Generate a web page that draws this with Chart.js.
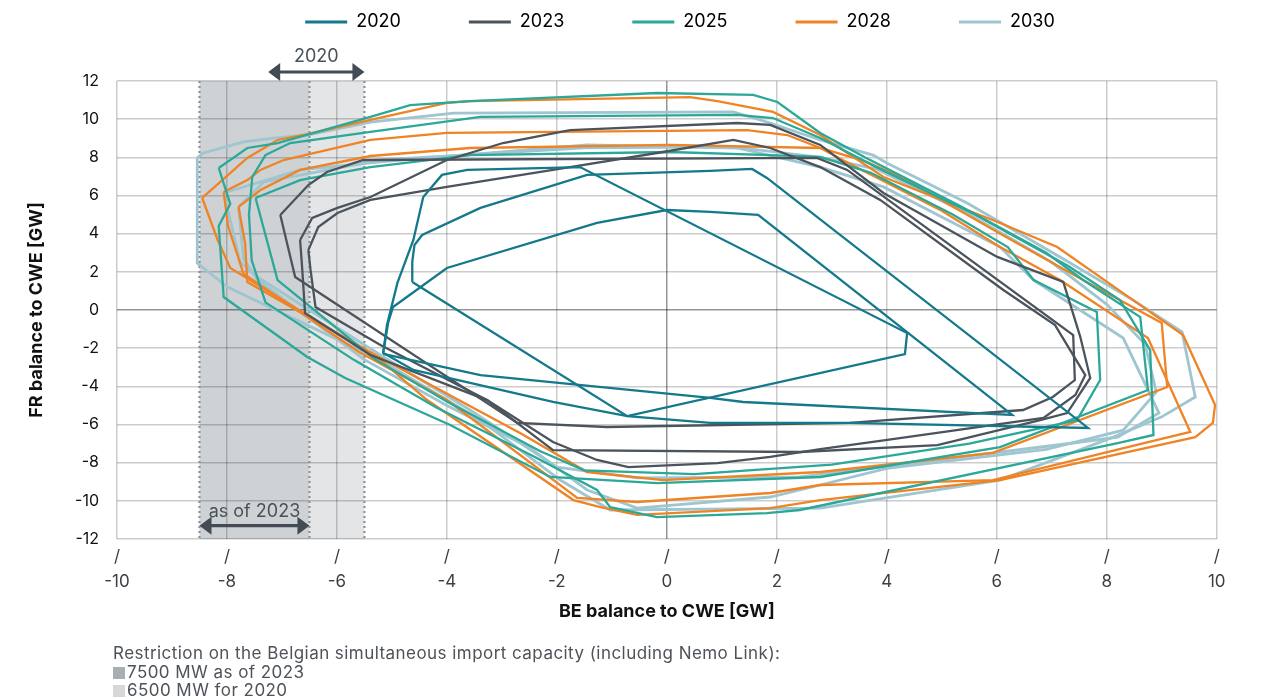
<!DOCTYPE html>
<html>
<head>
<meta charset="utf-8">
<script src="https://cdn.jsdelivr.net/npm/chart.js@4.4.1/dist/chart.umd.min.js"></script>
<style>
  html, body { margin: 0; padding: 0; background: #fff; }
  #wrap { position: relative; width: 1262px; height: 699px; }
  #notes { position: absolute; left: 113px; top: 644px; font: 17px Inter, sans-serif; letter-spacing: 0.45px; color: #4d5359; line-height: 18.5px; }
  .sq { display: inline-block; width: 12px; height: 12px; margin-right: 2px; vertical-align: -1px; }
</style>
</head>
<body>
<div id="wrap">
  <canvas id="frontier" width="1262" height="699"></canvas>
  <div id="notes">
    <div>Restriction on the Belgian simultaneous import capacity (including Nemo Link):</div>
    <div><span class="sq" style="background:#a9aeb3"></span>7500 MW as of 2023</div>
    <div><span class="sq" style="background:#d5d7d9"></span>6500 MW for 2020</div>
  </div>
</div>
<script>
var years = ['2020', '2023', '2025', '2028', '2030'];
var yearColors = ['#13798b', '#4b545c', '#2ba898', '#f08323', '#9ec5d0'];
var xTicks = [-10, -8, -6, -4, -2, 0, 2, 4, 6, 8, 10];
var yTicks = [-12, -10, -8, -6, -4, -2, 0, 2, 4, 6, 8, 10, 12];

// restriction on BE import (GW on the x axis)
var limit2023 = [-8.5, -6.5];
var limit2020 = [-6.5, -5.5];
var arrow2020 = [-7.25, -5.5];

// flow based domains, [BE, FR] in GW
var dom2020a = [[-5.16,-2.25],[-5.09,-0.79],[-4.90,1.42],[-4.61,3.67],[-4.43,5.92],[-4.09,7.08],[-3.63,7.34],[-1.58,7.49],[4.37,-1.21],[4.33,-2.31],[-0.72,-5.56],[-2.07,-4.82],[-4.61,-3.14],[-5.09,-2.36]];
var dom2020b = [[-5.16,-2.3],[-5.07,-0.68],[-4.98,0.16],[-4.00,2.20],[-1.27,4.56],[0.0,5.24],[0.79,5.14],[1.66,4.98],[6.28,-5.50],[1.39,-4.82],[0.79,-4.61],[-3.39,-3.41]];
var dom2020c = [[-4.63,1.47],[-4.63,2.52],[-4.59,3.41],[-4.45,3.93],[-3.39,5.35],[-1.45,7.08],[0.79,7.29],[1.55,7.39],[1.82,6.92],[7.66,-6.18],[3.33,-5.92],[0.79,-5.92],[-0.72,-5.56]];

var dom2023a = [[-7.03,4.98],[-6.52,6.55],[-6.18,7.23],[-5.52,7.86],[2.73,7.97],[3.28,7.34],[7.39,-1.31],[7.42,-3.67],[7.02,-4.56],[6.48,-5.24],[3.33,-5.92],[-1.09,-6.13],[-2.72,-5.92],[-6.76,1.73]];
var dom2023b = [[-6.67,3.67],[-6.45,4.82],[-5.99,5.35],[-5.39,5.92],[-4.00,7.86],[-2.98,8.75],[-1.76,9.43],[1.28,9.80],[1.88,9.70],[2.79,8.65],[3.94,6.13],[6.01,2.78],[7.21,1.47],[7.52,-1.42],[7.70,-3.56],[7.28,-5.40],[6.79,-5.77],[4.92,-7.08],[2.42,-7.44],[-2.07,-7.34],[-3.27,-4.72],[-5.39,-2.36],[-6.58,-0.16],[-6.63,2.10]];
var dom2023c = [[-6.52,3.14],[-6.34,4.35],[-5.99,5.08],[-5.39,5.77],[-4.00,6.45],[-1.76,7.49],[-0.07,8.28],[1.21,8.91],[1.88,8.49],[2.79,7.49],[3.88,5.77],[6.12,1.05],[7.06,-0.79],[7.61,-3.41],[7.43,-4.45],[6.85,-5.66],[4.01,-6.81],[2.79,-7.29],[1.88,-7.70],[0.92,-8.02],[-0.70,-8.23],[-1.27,-7.86],[-2.07,-6.92],[-3.27,-4.72],[-5.21,-1.83],[-6.39,0.16],[-6.48,2.10]];

var dom2025a = [[-8.15,7.44],[-7.63,8.49],[-7.08,8.75],[-5.39,10.12],[-4.67,10.74],[-3.58,10.95],[-0.18,11.37],[1.57,11.27],[2.01,10.90],[2.79,9.28],[3.6,8.0],[5.3,5.5],[6.9,3.0],[7.57,1.57],[8.61,-0.37],[8.75,-4.19],[6.06,-7.18],[2.79,-8.75],[-0.18,-9.07],[-2.12,-8.75],[-3.94,-6.03],[-5.85,-3.56],[-6.54,-2.46],[-8.06,0.68],[-8.15,4.4],[-7.94,5.56]];
var dom2025b = [[-7.54,6.97],[-7.3,8.12],[-6.85,8.75],[-5.39,9.33],[-3.39,10.12],[1.28,10.22],[1.93,10.06],[2.79,9.01],[3.8,7.5],[5.6,5.0],[7.3,2.3],[8.24,0.52],[8.79,-2.1],[8.85,-6.55],[8.2,-6.97],[2.42,-10.48],[1.82,-10.64],[-0.18,-10.85],[-1.03,-10.33],[-1.27,-9.43],[-2.4,-7.7],[-4.2,-5.1],[-5.7,-2.6],[-7.3,0.4],[-7.55,2.6],[-7.6,5.0]];
var dom2025c = [[-7.48,5.87],[-6.67,6.8],[-5.39,7.49],[-3.58,8.12],[0.06,8.28],[1.88,8.12],[2.79,8.02],[3.7,7.2],[5.2,5.0],[6.2,3.3],[6.67,1.57],[7.82,-0.1],[7.88,-3.67],[7.46,-5.77],[5.5,-7.0],[3.0,-8.1],[0.5,-8.6],[-1.5,-8.4],[-2.3,-7.4],[-4.0,-4.8],[-5.3,-2.6],[-7.08,1.57]];

var dom2028a = [[-8.45,5.87],[-7.63,7.97],[-7.08,8.91],[-6.54,9.22],[-5.39,9.96],[-4.0,10.85],[-3.58,10.95],[0.42,11.16],[0.92,10.95],[1.93,10.38],[2.79,9.17],[3.94,6.97],[6.06,4.56],[7.1,3.3],[8.48,0.52],[9.39,-1.31],[9.97,-4.98],[9.93,-5.92],[9.61,-6.66],[6.06,-8.91],[2.79,-9.96],[1.88,-10.38],[-0.54,-10.74],[-1.21,-10.33],[-1.70,-9.96],[-4.36,-4.72],[-5.21,-2.62],[-7.94,2.2],[-8.17,3.67]];
var dom2028b = [[-8.06,6.18],[-7.63,6.81],[-7.39,7.34],[-6.97,7.86],[-5.39,8.91],[-4.0,9.28],[1.46,9.43],[2.19,9.17],[2.79,8.49],[3.5,7.4],[5.0,5.2],[6.06,3.3],[7.15,1.57],[8.75,-1.47],[9.52,-6.39],[8.92,-6.81],[5.93,-8.91],[2.79,-9.17],[1.88,-9.59],[-0.54,-10.06],[-1.63,-9.85],[-4.0,-4.72],[-5.6,-2.2],[-7.7,1.9],[-7.98,4.4]];
var dom2028c = [[-7.79,5.4],[-7.39,6.29],[-6.67,7.34],[-5.39,8.07],[-3.58,8.49],[0.06,8.65],[2.79,8.49],[3.6,7.8],[4.3,6.9],[6.0,4.1],[7.57,1.57],[9.0,-0.68],[9.1,-4.04],[5.93,-7.49],[2.79,-8.49],[-0.07,-8.91],[-1.45,-8.49],[-2.67,-6.45],[-3.6,-5.0],[-5.21,-2.5],[-7.63,1.47],[-7.67,3.5]];

var dom2030a = [[-8.54,7.97],[-8.43,8.23],[-7.70,8.81],[-7.15,9.01],[-6.54,9.17],[-5.39,9.85],[-3.88,10.32],[1.21,10.38],[1.88,9.8],[2.79,8.91],[3.75,8.12],[4.0,7.7],[5.46,5.61],[7.15,2.78],[8.48,0.52],[9.37,-1.15],[9.61,-4.56],[9.0,-5.6],[8.12,-6.66],[6.06,-8.91],[2.79,-10.38],[-1.03,-10.48],[-1.94,-8.91],[-3.39,-5.77],[-5.21,-2.62],[-7.99,1.2],[-8.54,2.46]];
var dom2030b = [[-8.06,6.13],[-6.67,7.34],[-5.21,7.76],[-1.45,8.65],[1.28,8.49],[2.79,7.49],[3.94,6.45],[6.06,3.3],[6.67,1.57],[8.3,-1.47],[8.95,-5.4],[8.2,-6.66],[7.39,-6.97],[2.42,-8.75],[-0.54,-8.8],[-2.0,-8.23],[-3.58,-5.24],[-5.21,-2.36],[-7.45,1.73],[-7.76,2.52]];
var dom2030c = [[-7.79,5.4],[-7.33,6.71],[-5.21,7.86],[-1.5,8.5],[1.2,8.55],[2.79,8.0],[3.8,7.4],[5.5,5.0],[7.0,2.5],[8.0,0.3],[8.7,-1.8],[8.9,-4.3],[8.3,-6.3],[6.9,-7.3],[4.0,-8.3],[2.79,-9.17],[1.88,-9.8],[-0.54,-10.38],[-1.45,-9.43],[-2.5,-7.2],[-4.0,-5.0],[-5.5,-2.6],[-7.45,1.6],[-7.7,2.7]];

var domains = {
  '2020': [dom2020a, dom2020b, dom2020c],
  '2023': [dom2023a, dom2023b, dom2023c],
  '2025': [dom2025a, dom2025b, dom2025c],
  '2028': [dom2028a, dom2028b, dom2028c],
  '2030': [dom2030a, dom2030b, dom2030c]
};

//-------------
var datasets = [];
years.forEach(function (year, i) {
  domains[year].forEach(function (poly, k) {
    var pts = poly.map(function (p) { return { x: p[0], y: p[1] }; });
    pts.push({ x: poly[0][0], y: poly[0][1] }); // close the domain
    datasets.push({
      label: year,
      first: k === 0,
      data: pts,
      showLine: true,
      borderColor: yearColors[i],
      backgroundColor: yearColors[i],
      borderWidth: year === '2030' ? 2.8 : 2.3,
      pointRadius: 0,
      pointHoverRadius: 0,
      tension: 0
    });
  });
});

var FONT = 'Inter, "Noto Sans", sans-serif';
var ARROW = '#434c54';

function drawArrow(ctx, x1, x2, y) {
  var head = 12, half = 9;
  ctx.beginPath();
  ctx.moveTo(x1 + head - 1, y);
  ctx.lineTo(x2 - head + 1, y);
  ctx.lineWidth = 3.2;
  ctx.stroke();
  ctx.beginPath();
  ctx.moveTo(x1, y); ctx.lineTo(x1 + head, y - half); ctx.lineTo(x1 + head, y + half);
  ctx.closePath(); ctx.fill();
  ctx.beginPath();
  ctx.moveTo(x2, y); ctx.lineTo(x2 - head, y - half); ctx.lineTo(x2 - head, y + half);
  ctx.closePath(); ctx.fill();
}

// push the plot down below the legend
var legendSpace = {
  id: 'legendSpace',
  beforeInit: function (chart) {
    var fitValue = chart.legend.fit;
    chart.legend.fit = function fit() {
      fitValue.bind(chart.legend)();
      this.height = 136;
    };
  }
};

var restriction = {
  id: 'restriction',
  beforeDraw: function (chart) {
    var ctx = chart.ctx, a = chart.chartArea, x = chart.scales.x;
    ctx.save();
    ctx.fillStyle = '#cfd2d5';
    ctx.fillRect(x.getPixelForValue(limit2023[0]), a.top, x.getPixelForValue(limit2023[1]) - x.getPixelForValue(limit2023[0]), a.bottom - a.top);
    ctx.fillStyle = '#e4e5e7';
    ctx.fillRect(x.getPixelForValue(limit2020[0]), a.top, x.getPixelForValue(limit2020[1]) - x.getPixelForValue(limit2020[0]), a.bottom - a.top);
    ctx.restore();
  },
  beforeDatasetsDraw: function (chart) {
    var ctx = chart.ctx, a = chart.chartArea, x = chart.scales.x;
    ctx.save();
    ctx.strokeStyle = '#8d9094';
    ctx.lineWidth = 2.2;
    ctx.setLineDash([2, 3]);
    [limit2023[0], limit2023[1], limit2020[1]].forEach(function (v) {
      var px = x.getPixelForValue(v);
      ctx.beginPath(); ctx.moveTo(px, a.top); ctx.lineTo(px, a.bottom); ctx.stroke();
    });
    ctx.restore();
  },
  afterDatasetsDraw: function (chart) {
    var ctx = chart.ctx, a = chart.chartArea, x = chart.scales.x, y = chart.scales.y;
    ctx.save();
    ctx.strokeStyle = ARROW;
    ctx.fillStyle = ARROW;
    drawArrow(ctx, x.getPixelForValue(arrow2020[0]), x.getPixelForValue(arrow2020[1]), a.top - 9);
    drawArrow(ctx, x.getPixelForValue(limit2023[0]), x.getPixelForValue(limit2023[1]), y.getPixelForValue(-11.3));
    ctx.fillStyle = '#4a5259';
    ctx.font = '18px ' + FONT;
    ctx.textAlign = 'center';
    ctx.textBaseline = 'middle';
    ctx.fillText('2020', x.getPixelForValue((arrow2020[0] + arrow2020[1]) / 2), a.top - 24);
    ctx.fillText('as of 2023', x.getPixelForValue((limit2023[0] + limit2023[1]) / 2), y.getPixelForValue(-10.55));
    ctx.restore();
  }
};

function gridColor(c) {
  return c.tick && c.tick.value === 0 ? 'rgba(0,0,0,0.42)' : 'rgba(0,0,0,0.2)';
}

var chart = new Chart(document.getElementById('frontier').getContext('2d'), {
  type: 'scatter',
  data: { datasets: datasets },
  plugins: [legendSpace, restriction],
  options: {
    responsive: false,
    animation: false,
    devicePixelRatio: 1,
    layout: { padding: { top: -55, left: 0, right: -98, bottom: 75 } },
    plugins: {
      tooltip: { enabled: false },
      legend: {
        position: 'top',
        labels: {
          boxWidth: 42,
          boxHeight: 3,
          padding: 68,
          color: '#4a5259',
          font: { family: FONT, size: 18 },
          generateLabels: function (chart) {
            return chart.data.datasets.map(function (ds, i) {
              return { text: ds.label, fillStyle: ds.borderColor, strokeStyle: ds.borderColor, lineWidth: 0, hidden: false, datasetIndex: i, first: ds.first };
            }).filter(function (it) { return it.first; });
          }
        }
      }
    },
    scales: {
      x: {
        type: 'linear', min: -10, max: 10,
        afterBuildTicks: function (s) { s.ticks = xTicks.map(function (v) { return { value: v }; }); },
        afterFit: function (s) { s.height = 85; },
        grid: { color: gridColor, lineWidth: 1.5, drawTicks: false },
        border: { display: false },
        ticks: {
          padding: 5,
          color: '#3a3f44',
          font: { family: FONT, size: 17, lineHeight: 1.5 },
          callback: function (v) { return ['/', String(v)]; }
        },
        title: { display: true, text: 'BE balance to CWE [GW]', color: '#111', font: { family: FONT, size: 18, weight: 'bold' }, padding: { top: 0, bottom: 1.2 } }
      },
      y: {
        type: 'linear', min: -12, max: 12,
        afterBuildTicks: function (s) { s.ticks = yTicks.map(function (v) { return { value: v }; }); },
        afterFit: function (s) { s.width = 117; },
        grid: { color: gridColor, lineWidth: 1.5, drawTicks: false },
        border: { display: false },
        ticks: { padding: 18, color: '#111', font: { family: FONT, size: 16 } },
        title: { display: true, text: 'FR balance to CWE [GW]', color: '#111', font: { family: FONT, size: 18, weight: 'bold' }, padding: { top: 26.2, bottom: 0 } }
      },
      y2: {
        type: 'linear', position: 'right', display: true,
        afterFit: function (s) { s.width = 143.3; },
        grid: { display: false },
        border: { display: false },
        ticks: { display: false }
      }
    }
  }
});
</script>
</body>
</html>
